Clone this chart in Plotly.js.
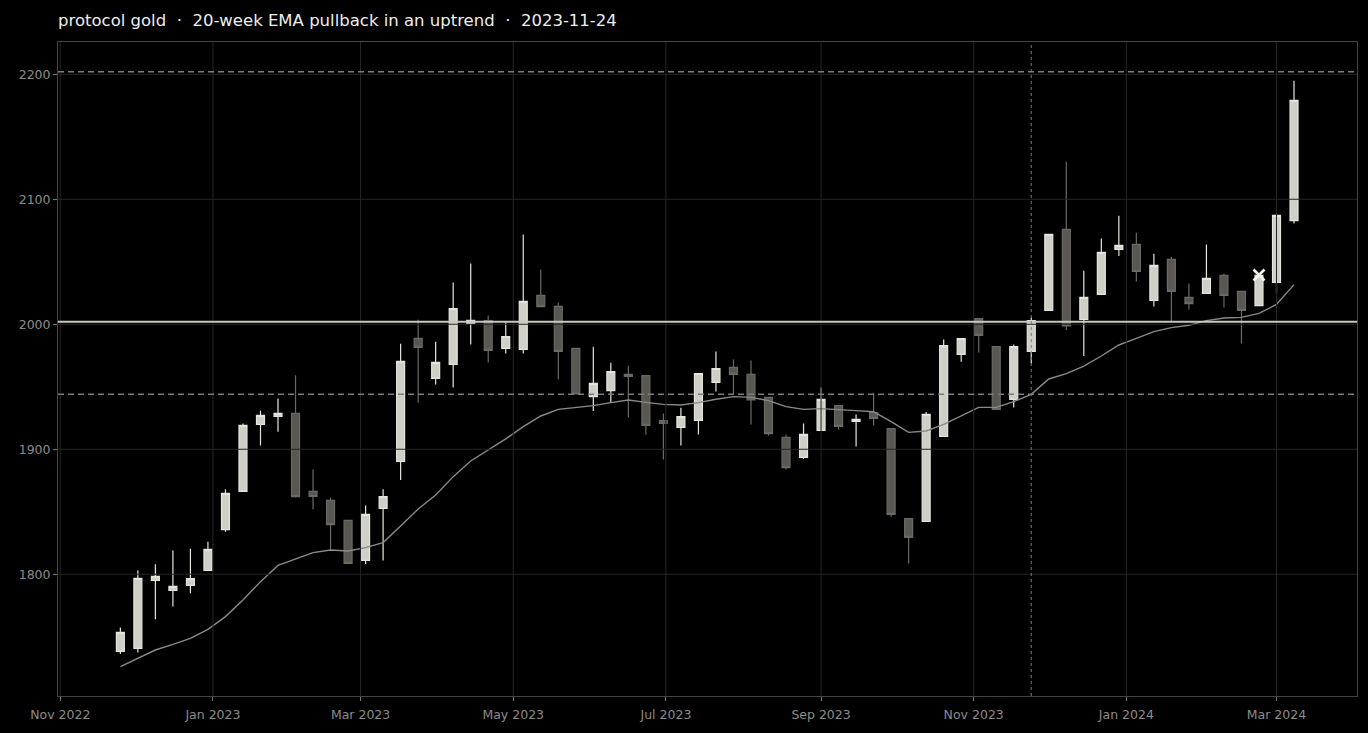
<!DOCTYPE html>
<html>
<head>
<meta charset="utf-8">
<script src="https://cdn.plot.ly/plotly-3.0.1.min.js"></script>
<style>
  html, body { margin: 0; padding: 0; background: #000; }
  #chart { width: 1368px; height: 733px; }
</style>
</head>
<body>
<div id="chart"></div>
<script>
// ---- Data (weekly candles) ----
const weekDates = [
  '2022-11-25','2022-12-02','2022-12-09','2022-12-16','2022-12-23','2022-12-30',
  '2023-01-06','2023-01-13','2023-01-20','2023-01-27','2023-02-03','2023-02-10',
  '2023-02-17','2023-02-24','2023-03-03','2023-03-10','2023-03-17','2023-03-24',
  '2023-03-31','2023-04-07','2023-04-14','2023-04-21','2023-04-28','2023-05-05',
  '2023-05-12','2023-05-19','2023-05-26','2023-06-02','2023-06-09','2023-06-16',
  '2023-06-23','2023-06-30','2023-07-07','2023-07-14','2023-07-21','2023-07-28',
  '2023-08-04','2023-08-11','2023-08-18','2023-08-25','2023-09-01','2023-09-08',
  '2023-09-15','2023-09-22','2023-09-29','2023-10-06','2023-10-13','2023-10-20',
  '2023-10-27','2023-11-03','2023-11-10','2023-11-17','2023-11-24','2023-12-01',
  '2023-12-08','2023-12-15','2023-12-22','2023-12-29','2024-01-05','2024-01-12',
  '2024-01-19','2024-01-26','2024-02-02','2024-02-09','2024-02-16','2024-02-23',
  '2024-03-01','2024-03-08'
];
const openPrices = [
  1738.3,1740.7,1795.1,1787.1,1791.1,1803.1,1835.7,1866.3,1919.9,1926.3,1928.7,1866.3,
  1859.1,1843.1,1811.1,1852.7,1890.3,1988.7,1956.7,1967.9,2000.7,2002.9,1980.7,1979.9,
  2023.1,2014.3,1980.7,1942.1,1946.9,1959.9,1958.9,1922.9,1917.5,1923.1,1953.5,1965.5,
  1959.9,1941.5,1909.5,1893.5,1915.1,1934.9,1922.3,1929.4,1916.5,1844.5,1842.3,1910.3,
  1975.9,2004.5,1982.1,1939.9,1978.3,2011.1,2075.9,2003.9,2023.9,2059.9,2063.9,2019.1,
  2051.9,2021.5,2024.7,2039.1,2026.3,2014.9,2033.5,2082.9
];
const highPrices = [
  1757.5,1802.9,1808.0,1818.9,1820.5,1826.1,1867.9,1920.7,1930.9,1940.7,1959.2,1883.9,
  1861.5,1843.1,1854.9,1867.9,1984.5,2003.7,1986.1,2033.5,2048.7,2007.1,2002.0,2071.9,
  2043.9,2017.5,1980.7,1982.1,1969.3,1966.9,1958.9,1928.7,1933.3,1960.6,1978.3,1971.9,
  1971.1,1941.5,1911.9,1920.7,1949.5,1934.9,1927.9,1945.3,1916.5,1844.5,1929.8,1987.9,
  1988.5,2004.5,1982.1,1983.9,2005.5,2071.9,2130.1,2042.9,2068.7,2086.9,2073.3,2056.5,
  2054.1,2032.6,2063.9,2040.7,2026.3,2039.1,2087.1,2194.9
];
const lowPrices = [
  1736.2,1737.5,1764.0,1774.3,1784.7,1803.1,1834.1,1866.3,1903.1,1914.1,1861.5,1851.9,
  1818.6,1808.7,1808.2,1811.1,1875.4,1937.5,1951.9,1949.5,1983.9,1969.5,1976.7,1976.7,
  2014.1,1955.9,1944.2,1930.6,1937.5,1925.5,1911.9,1891.9,1903.1,1911.9,1946.3,1944.2,
  1919.9,1911.1,1883.7,1892.5,1915.1,1915.9,1902.3,1919.1,1845.8,1808.7,1842.3,1910.3,
  1970.1,1977.5,1931.9,1933.5,1968.7,2011.1,1995.4,1974.6,2023.9,2054.6,2034.3,2014.3,
  2002.3,2011.8,2024.7,2013.5,1984.7,2014.9,2024.7,2080.7
];
const closePrices = [
  1753.5,1796.7,1798.3,1790.3,1796.5,1819.9,1864.7,1919.1,1927.1,1928.7,1862.1,1862.2,
  1839.7,1808.7,1847.9,1862.1,1970.3,1981.5,1969.5,2012.5,2003.1,1979.1,1990.2,2018.3,
  2014.1,1978.3,1944.2,1952.7,1962.1,1958.3,1919.1,1920.7,1926.1,1960.6,1964.6,1959.9,
  1939.4,1912.5,1885.3,1911.9,1939.9,1918.3,1923.9,1924.7,1847.9,1829.5,1927.9,1982.9,
  1988.5,1991.1,1931.9,1982.1,2002.9,2071.9,1998.6,2021.5,2057.5,2063.1,2042.3,2047.1,
  2026.3,2016.5,2036.7,2023.1,2011.1,2039.1,2087.1,2179.1
];
const ema20 = [
  1726.1,1732.7,1739.4,1743.9,1748.7,1755.9,1766.1,1779.4,1794.1,1807.1,1812.2,1817.3,
  1819.4,1818.6,1821.3,1825.3,1838.6,1852.2,1863.4,1878.1,1890.6,1899.4,1908.3,1918.1,
  1926.6,1931.9,1933.3,1934.9,1937.3,1939.4,1937.5,1935.9,1935.4,1937.3,1940.0,1942.1,
  1941.5,1938.9,1934.1,1931.9,1932.5,1931.4,1930.9,1930.0,1922.1,1913.5,1914.6,1919.9,
  1926.9,1933.5,1933.5,1938.1,1943.9,1956.2,1960.5,1966.5,1974.6,1983.4,1988.7,1994.1,
  1997.3,1999.2,2002.9,2005.0,2005.5,2008.7,2015.9,2031.7
];
const signalDates = ['2024-02-23'];
const signalPrices = [2039.4];
const dashedLevels = [2202, 1944];
const solidLevels = [2002];
const markerDate = '2023-11-24';
const yTickVals = [1800, 1900, 2000, 2100, 2200];
const xTickVals = ['2022-11-01','2023-01-01','2023-03-01','2023-05-01','2023-07-01',
                   '2023-09-01','2023-11-01','2024-01-01','2024-03-01'];
const xTickText = ['Nov 2022','Jan 2023','Mar 2023','May 2023','Jul 2023',
                   'Sep 2023','Nov 2023','Jan 2024','Mar 2024'];
const titleText = 'protocol gold  ·  20-week EMA pullback in an uptrend  ·  2023-11-24';

// ---- Traces ----
const candles = {
  type: 'candlestick',
  x: weekDates, open: openPrices, high: highPrices, low: lowPrices, close: closePrices,
  increasing: { line: { color: '#e4e4dc', width: 1.2 }, fillcolor: '#cfcfc7' },
  decreasing: { line: { color: '#6b6964', width: 1.2 }, fillcolor: '#595752' },
  whiskerwidth: 0,
  hoverinfo: 'skip'
};
const emaLine = {
  type: 'scatter', mode: 'lines', x: weekDates, y: ema20,
  line: { color: '#8a8a86', width: 1.4 }, hoverinfo: 'skip'
};
const signal = {
  type: 'scatter', mode: 'markers', x: signalDates, y: signalPrices,
  marker: { symbol: 'x-thin', size: 11, line: { color: '#f4f4f0', width: 2.6 } },
  hoverinfo: 'skip'
};

// ---- Shapes (grid drawn above, level lines) ----
const gridColor = '#262626';
const shapes = [];
yTickVals.forEach(v => shapes.push({
  type: 'line', layer: 'above', xref: 'paper', x0: 0, x1: 1, yref: 'y', y0: v, y1: v,
  line: { color: gridColor, width: 1 }
}));
xTickVals.forEach(d => shapes.push({
  type: 'line', layer: 'above', yref: 'paper', y0: 0, y1: 1, xref: 'x', x0: d, x1: d,
  line: { color: gridColor, width: 1 }
}));
dashedLevels.forEach(v => shapes.push({
  type: 'line', layer: 'above', xref: 'paper', x0: 0, x1: 1, yref: 'y', y0: v, y1: v,
  line: { color: '#7c7c7a', width: 1.5, dash: '6px,4px' }
}));
solidLevels.forEach(v => shapes.push({
  type: 'line', layer: 'above', xref: 'paper', x0: 0, x1: 1, yref: 'y', y0: v, y1: v,
  line: { color: '#c8c8c0', width: 2 }
}));
shapes.push({
  type: 'line', layer: 'above', yref: 'paper', y0: 0, y1: 1, xref: 'x', x0: markerDate, x1: markerDate,
  line: { color: '#7a7a78', width: 1, dash: 'dot' }
});

const tickFont = { family: 'DejaVu Sans', size: 12.5, color: '#8c8c8a' };
const layout = {
  width: 1368, height: 733,
  paper_bgcolor: '#000000', plot_bgcolor: '#000000',
  margin: { l: 58, r: 11, t: 42, b: 37 },
  showlegend: false,
  boxgap: 0.35,
  title: {
    text: titleText, xref: 'container', x: 58 / 1368, xanchor: 'left',
    yref: 'container', y: 1 - 20 / 733, yanchor: 'middle',
    font: { family: 'DejaVu Sans', size: 16.5, color: '#eeeeee' }
  },
  xaxis: {
    type: 'date', range: ['2022-10-31 02:00', '2024-04-02 04:00'],
    tickvals: xTickVals, ticktext: xTickText,
    showgrid: false, zeroline: false,
    ticks: 'outside', ticklen: 4, tickcolor: '#777', tickwidth: 1,
    tickfont: tickFont, ticklabelstandoff: 3,
    showline: true, linecolor: '#444', linewidth: 1, mirror: true,
    rangeslider: { visible: false }, fixedrange: true
  },
  yaxis: {
    range: [1702.6, 2225.8], tickvals: yTickVals,
    showgrid: false, zeroline: false,
    ticks: 'outside', ticklen: 4, tickcolor: '#777', tickwidth: 1,
    tickfont: tickFont,
    showline: true, linecolor: '#444', linewidth: 1, mirror: true, fixedrange: true
  },
  shapes: shapes
};

Plotly.newPlot('chart', [candles, emaLine, signal], layout, { staticPlot: true, displayModeBar: false });
</script>
</body>
</html>
